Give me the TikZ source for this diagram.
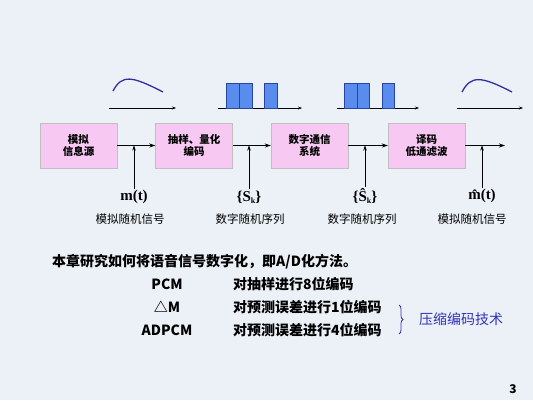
\documentclass[tikz,border=0pt]{standalone}
\usepackage{fontspec}
\newfontfamily\cjk{Noto Sans CJK SC}
\newfontfamily\sigserif{Liberation Serif}
\usetikzlibrary{arrows.meta,positioning,decorations.pathreplacing}

\definecolor{pagebg}{RGB}{236,241,247}
\definecolor{blockpink}{RGB}{246,200,242}
\definecolor{wavecol}{RGB}{48,48,160}
\definecolor{pulsefill}{RGB}{90,140,238}
\definecolor{pulseline}{RGB}{40,70,160}
\definecolor{notecol}{RGB}{50,50,185}

\newcommand{\subk}{\raisebox{-0.35ex}{\fontsize{8}{9}\selectfont k}}

\begin{document}
\begin{tikzpicture}[
  blockbox/.style  = {draw=gray!50, fill=blockpink, minimum width=77pt, minimum height=45pt, inner sep=1pt, align=center, font=\cjk\bfseries\fontsize{10.5}{12.5}\selectfont},
  siglink/.style   = {-{Stealth[length=6pt,width=4pt]}, line width=1.1pt},
  taplink/.style   = {-{Stealth[length=5pt,width=3.5pt]}, line width=0.6pt},
  axislink/.style  = {-{Stealth[length=4pt,width=3pt]}, line width=0.6pt},
  wave/.style      = {draw=wavecol, line width=1.3pt},
  pulse/.style     = {fill=pulsefill, draw=pulseline, line width=0.6pt},
  sigmath/.style   = {inner sep=1pt, font=\sigserif\bfseries\fontsize{15}{17}\selectfont},
  signame/.style   = {font=\cjk\fontsize{11.5}{13}\selectfont},
  bodytext/.style  = {inner sep=0pt, font=\cjk\bfseries\fontsize{14}{16}\selectfont},
  x=1pt, y=-1pt,
]

  \fill[pagebg] (0,0) rectangle (533,400);

  % waveforms
  \draw[axislink] (109,108) -- (176,108);
  \draw[wave] (113,91) .. controls (122,74) and (132,76) .. (163,92);
  \draw[axislink] (218,108) -- (302,108);
  \filldraw[pulse] (226,83) rectangle (239,108);
  \filldraw[pulse] (239,83) rectangle (252,108);
  \filldraw[pulse] (264,83) rectangle (277,108);
  \draw[axislink] (337,108) -- (419,108);
  \filldraw[pulse] (344,83) rectangle (357,108);
  \filldraw[pulse] (357,83) rectangle (369,108);
  \filldraw[pulse] (382,83) rectangle (394,108);
  \draw[axislink] (457,108) -- (523,108);
  \draw[wave] (462,92) .. controls (471,75) and (481,76) .. (512,92);

  \node[blockbox] (src)  at (78.5,145.5)  {模拟\\信息源};
  \node[blockbox] (enc)  at (194,145.5)   {抽样、量化\\编码};
  \node[blockbox] (chan) at (309.5,145.5) {数字通信\\系统};
  \node[blockbox] (dec)  at (426.5,145.5) {译码\\低通滤波};
  \coordinate (sink) at (505,145.5);
  \draw[siglink] (src) -- (enc);
  \draw[siglink] (enc) -- (chan);
  \draw[siglink] (chan) -- (dec);
  \draw[siglink] (dec) -- (sink);

  \node[sigmath] (mt)    at (134,197) {m(t)};
  \node[sigmath] (sk)    at (249,197) {\{S\subk\}};
  \node[sigmath] (skhat) at (365,196) {\{Ŝ\subk\}};
  \node[sigmath] (mthat) at (482,196) {m̂(t)};
  \draw[taplink] (mt) -- (mt |- src.east);
  \draw[taplink] (sk) -- (sk |- src.east);
  \draw[taplink] (skhat) -- (skhat |- src.east);
  \draw[taplink] (mthat) -- (mthat |- src.east);

  \node[signame] (mtname)    at (130,219) {模拟随机信号};
  \node[signame] (skname)    at (250,219) {数字随机序列};
  \node[signame] (skhatname) at (362,219) {数字随机序列};
  \node[signame] (mthatname) at (472,219) {模拟随机信号};

  \node[bodytext, anchor=west] (intro) at (52,262) {本章研究如何将语音信号数字化，即A/D化方法。};
  \node[bodytext] (pcm)   at (167,284) {PCM};
  \node[bodytext] (dm)    at (167,307) {△M};
  \node[bodytext] (adpcm) at (167,330) {ADPCM};
  \node[bodytext, anchor=west] (pcmtext)   at (233,284) {对抽样进行8位编码};
  \node[bodytext, anchor=west] (dmtext)    at (233,307) {对预测误差进行1位编码};
  \node[bodytext, anchor=west] (adpcmtext) at (233,330) {对预测误差进行4位编码};
  \draw[notecol, line width=0.8pt, decorate, decoration={brace, amplitude=4pt}] (399,305) -- (399,334);
  \node[anchor=west, inner sep=0pt, text=notecol, font=\cjk\fontsize{14}{16}\selectfont] (note) at (419,319) {压缩编码技术};

  \node[font=\cjk\bfseries\fontsize{12}{14}\selectfont] (pageno) at (513,389) {3};
\end{tikzpicture}
\end{document}
